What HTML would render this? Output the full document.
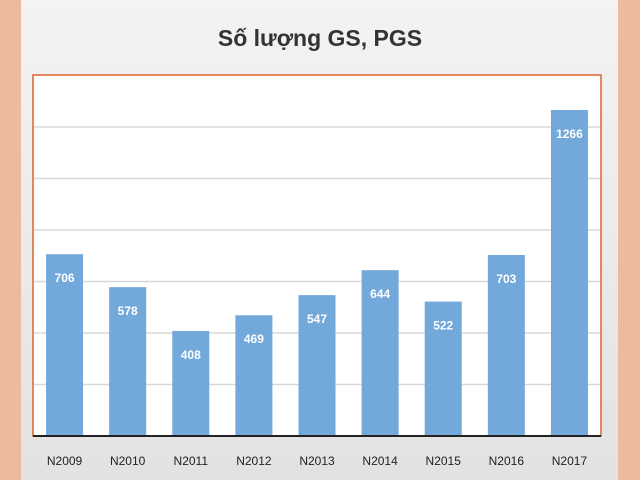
<!DOCTYPE html>
<html><head><meta charset="utf-8"><style>
body{margin:0;width:640px;height:480px;background:#ebbb9c;overflow:hidden;font-family:"Liberation Sans",sans-serif}
#panel{position:absolute;left:21px;top:0;width:597px;height:480px;background:linear-gradient(#f3f3f3,#e2e2e2)}
svg{position:absolute;left:0;top:0}
</style></head><body>
<div id="panel"></div>
<svg width="640" height="480">
<text x="320" y="46" text-anchor="middle" font-size="23" font-weight="bold" fill="#333">Số lượng GS, PGS</text>
<rect x="33" y="75" width="568" height="361" fill="#fff" stroke="#d9652f" stroke-width="1.5"/>
<g id="grid"></g><g id="bars"></g>
<line x1="33" y1="436" x2="601" y2="436" stroke="#222" stroke-width="2"/>
</svg>
<script>
const categories=["N2009","N2010","N2011","N2012","N2013","N2014","N2015","N2016","N2017"];
const values=[706,578,408,469,547,644,522,703,1266];
const gridTicks=[200,400,600,800,1000,1200];
const x0=33,x1=601,yb=436,ppu=0.2575;
const y=v=>yb-v*ppu;
const bw=(x1-x0)/categories.length;
const ns="http://www.w3.org/2000/svg";
const g=document.getElementById('grid'),b=document.getElementById('bars');
gridTicks.forEach(t=>{const l=document.createElementNS(ns,'line');
l.setAttribute('x1',x0+1);l.setAttribute('x2',x1-1);l.setAttribute('y1',y(t));l.setAttribute('y2',y(t));
l.setAttribute('stroke','#d8d8d8');l.setAttribute('stroke-width','1.5');


g.appendChild(l);});
categories.forEach((c,i)=>{const cx=x0+bw*(i+0.5),v=values[i];
const r=document.createElementNS(ns,'rect');
r.setAttribute('x',cx-18.5);r.setAttribute('width',37);r.setAttribute('y',y(v));r.setAttribute('height',yb-y(v));r.setAttribute('fill','#72a8da');


b.appendChild(r);
const t=document.createElementNS(ns,'text');
t.setAttribute('x',cx);t.setAttribute('y',y(v)+28);t.setAttribute('text-anchor','middle');t.setAttribute('font-size','12');t.setAttribute('font-weight','bold');t.setAttribute('fill','#fff');t.textContent=v;


b.appendChild(t);
const l=document.createElementNS(ns,'text');
l.setAttribute('x',cx);l.setAttribute('y',465);l.setAttribute('text-anchor','middle');l.setAttribute('font-size','12');l.setAttribute('fill','#222');l.textContent=c;


b.appendChild(l);});
</script>
</body></html>
